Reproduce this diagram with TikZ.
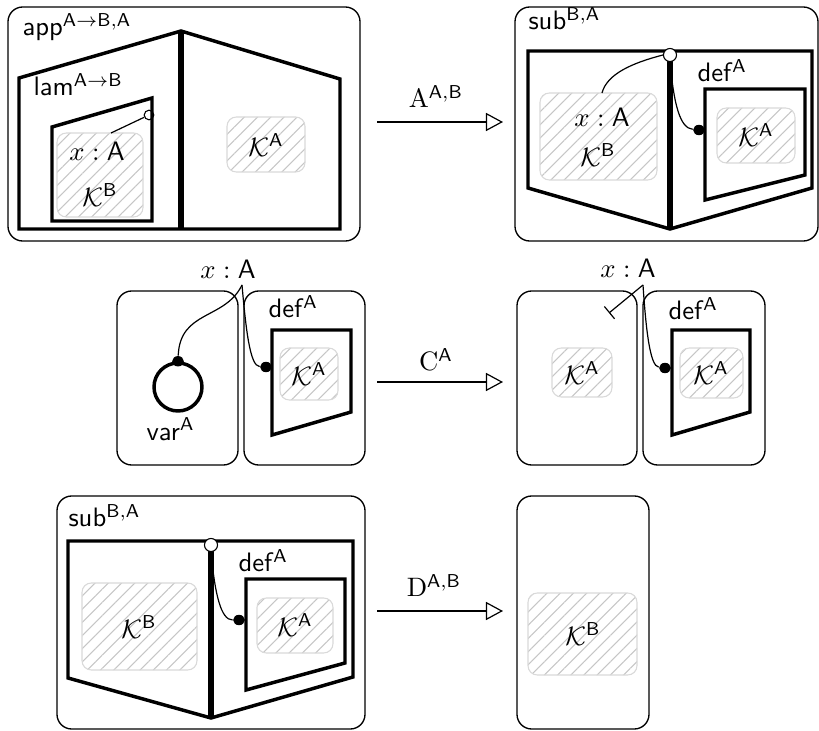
\documentclass[tikz,border=0pt]{standalone}
\usepackage{amsmath, amssymb}
\usetikzlibrary{arrows.meta, patterns.meta, shapes.geometric}

\begin{document}
\begin{tikzpicture}[x=0.375pt, y=-0.375pt,
  panel/.style={draw, line width=0.5pt, rounded corners=5.5pt},
  frame/.style={draw, line width=1.3pt, line join=miter},
  divider/.style={line width=2pt},
  hatch/.style={draw=gray!30, line width=0.4pt, rounded corners=3.5pt,
    pattern={Lines[angle=45, distance=3.5pt, line width=0.4pt]}, pattern color=gray!45},
  lbl/.style={anchor=base west, inner sep=0pt},
  txt/.style={inner sep=0pt},
  dot/.style={ellipse, fill=black, inner sep=0pt, minimum width=4.4pt, minimum height=3.9pt},
  hole/.style={circle, draw, fill=white, line width=0.4pt, inner sep=0pt, minimum size=4.9pt},
  varring/.style={circle, draw, line width=1.3pt, inner sep=0pt, minimum size=18pt},
  link/.style={line width=0.45pt},
  steparrow/.style={line width=0.45pt, -{Triangle[open, length=6.4pt, width=6.8pt]}}
]
  \useasboundingbox (0,0) rectangle (819,731);

  % top left: app
  \draw[panel] (8,7) rectangle (360,241);
  \node[lbl] (app) at (22,36) {\textsf{app}$^{\mathsf{A}\to\mathsf{B},\mathsf{A}}$};
  \draw[frame] (19,229) -- (19,78) -- (181,31) -- (340,79) -- (340,229) -- cycle;
  \draw[divider] (181,31) -- (181,229);
  \node[lbl] (lam) at (33,96) {\textsf{lam}$^{\mathsf{A}\to\mathsf{B}}$};
  \node[hole, minimum size=3.6pt] (lc) at (149,115) {};
  \draw[frame] (52,221) -- (52,127) -- (152,98) -- (152,221) -- cycle;
  \draw[hatch] (57,133) rectangle (143,217);
  \node[txt] (xa1) at (97,151) {$x:\mathsf{A}$};
  \node[txt] (kb1) at (100,195) {$\mathcal{K}^{\mathsf{B}}$};
  \coordinate (lx) at (111,133);
  \draw[link] (lc) -- (lx);
  \draw[hatch] (227,117) rectangle (305,172);
  \node[txt] (ka1) at (266,145) {$\mathcal{K}^{\mathsf{A}}$};

  % top right: sub
  \draw[panel] (515,7) rectangle (818,241);
  \node[lbl] (sub2) at (528,30) {\textsf{sub}$^{\mathsf{B},\mathsf{A}}$};
  \draw[frame] (528,51) -- (812,51) -- (812,188) -- (670,229) -- (528,188) -- cycle;
  \draw[divider] (670,51) -- (670,229);
  \draw[hatch] (540,93) rectangle (657,180);
  \node[txt] (xa2) at (602,117) {$x:\mathsf{A}$};
  \node[txt] (kb2) at (598,155) {$\mathcal{K}^{\mathsf{B}}$};
  \node[lbl] (def2) at (697,82) {\textsf{def}$^{\mathsf{A}}$};
  \draw[frame] (705,89) -- (805,89) -- (805,175) -- (705,200) -- cycle;
  \draw[hatch] (717,108) rectangle (795,163);
  \node[txt] (ka2) at (756,135) {$\mathcal{K}^{\mathsf{A}}$};
  \coordinate (sx) at (602,93);
  \node[hole] (sc) at (670,55) {};
  \node[dot] (sd) at (699,130) {};
  \draw[link] (sc.west) .. controls (632,63) and (607,74) .. (sx);
  \draw[link] (sc.south) .. controls (674,105) and (680,128) .. (sd);

  % middle left
  \draw[panel] (117,291) rectangle (238,465);
  \draw[panel] (244,291) rectangle (365,465);
  \node[txt, anchor=base] (xa3) at (228,279) {$x:\mathsf{A}$};
  \coordinate (t3) at (242,285);
  \node[varring] (var3) at (178,387) {};
  \node[lbl] (varl) at (146,440) {\textsf{var}$^{\mathsf{A}}$};
  \node[lbl] (def3) at (268,318) {\textsf{def}$^{\mathsf{A}}$};
  \draw[frame] (272,330) -- (351,330) -- (351,412) -- (272,435) -- cycle;
  \draw[hatch] (280,348) rectangle (338,400);
  \node[txt] (ka3) at (309,374) {$\mathcal{K}^{\mathsf{A}}$};
  \node[dot] (vd3) at (var3.north) {};
  \node[dot] (dd3) at (266,367) {};
  \draw[link] (t3) .. controls (225,320) and (180,310) .. (vd3);
  \draw[link] (t3) .. controls (246,330) and (250,366) .. (dd3);

  % middle right
  \draw[panel] (517,291) rectangle (637,465);
  \draw[panel] (643,291) rectangle (765,465);
  \node[txt, anchor=base] (xa4) at (628,278) {$x:\mathsf{A}$};
  \coordinate (t4) at (643,285);
  \coordinate (bar4) at (609,313);
  \draw[hatch] (552,348) rectangle (612,397);
  \node[txt] (ka4) at (582,373) {$\mathcal{K}^{\mathsf{A}}$};
  \node[lbl] (def4) at (668,320) {\textsf{def}$^{\mathsf{A}}$};
  \draw[frame] (672,330) -- (750,330) -- (750,412) -- (672,435) -- cycle;
  \draw[hatch] (680,348) rectangle (743,398);
  \node[txt] (ka5) at (711,373) {$\mathcal{K}^{\mathsf{A}}$};
  \node[dot] (dd4) at (665,368) {};
  \draw[link, -{Bar[width=6pt]}] (t4) -- (bar4);
  \draw[link] (t4) .. controls (646,330) and (650,366) .. (dd4);

  % bottom left: sub
  \draw[panel] (57,496) rectangle (365,729);
  \node[lbl] (sub5) at (68,527) {\textsf{sub}$^{\mathsf{B},\mathsf{A}}$};
  \draw[frame] (68,541) -- (353,541) -- (353,677) -- (211,718) -- (68,678) -- cycle;
  \draw[divider] (211,541) -- (211,718);
  \draw[hatch] (82,583) rectangle (197,670);
  \node[txt] (kb5) at (139,627) {$\mathcal{K}^{\mathsf{B}}$};
  \node[lbl] (def5) at (238,572) {\textsf{def}$^{\mathsf{A}}$};
  \draw[frame] (246,579) -- (345,579) -- (345,663) -- (246,690) -- cycle;
  \draw[hatch] (257,598) rectangle (333,653);
  \node[txt] (ka6) at (295,625) {$\mathcal{K}^{\mathsf{A}}$};
  \node[hole] (sc5) at (211,545) {};
  \node[dot] (sd5) at (239,620) {};
  \draw[link] (sc5.south) .. controls (215,595) and (221,620) .. (sd5);

  % bottom right
  \draw[panel] (517,496) rectangle (649,729);
  \draw[hatch] (528,593) rectangle (637,675);
  \node[txt] (kb6) at (583,634) {$\mathcal{K}^{\mathsf{B}}$};

  % steps
  \coordinate (a1) at (377,122); \coordinate (a2) at (503,122);
  \coordinate (c1) at (377,382); \coordinate (c2) at (503,382);
  \coordinate (d1) at (377,611); \coordinate (d2) at (503,611);
  \draw[steparrow] (a1) -- (a2);
  \draw[steparrow] (c1) -- (c2);
  \draw[steparrow] (d1) -- (d2);
  \node[txt, anchor=base] (la) at (436,108) {$\mathrm{A}^{\mathsf{A},\mathsf{B}}$};
  \node[txt, anchor=base] (lc3) at (436,371) {$\mathrm{C}^{\mathsf{A}}$};
  \node[txt, anchor=base] (ld) at (434,597) {$\mathrm{D}^{\mathsf{A},\mathsf{B}}$};
\end{tikzpicture}
\end{document}
